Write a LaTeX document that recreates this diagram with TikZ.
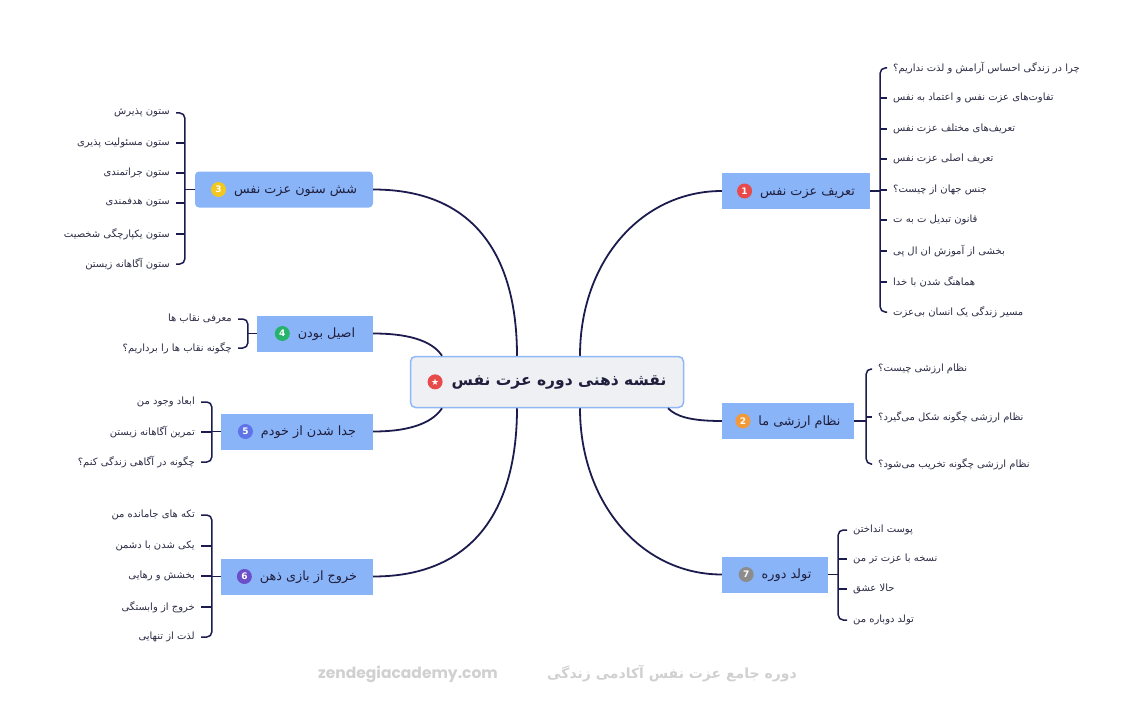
\documentclass[tikz,border=0pt]{standalone}
\usepackage{fontspec}
\setmainfont{DejaVu Sans}
\newfontfamily\fafont[Script=Arabic]{DejaVu Sans}
\newfontfamily\webfont{Poppins}
\TeXXeTstate=1
\usetikzlibrary{positioning}
\definecolor{navy}{HTML}{1C1B4D}
\definecolor{topicblue}{HTML}{8AB4F8}
\definecolor{rootfill}{HTML}{EEF0F4}
\definecolor{rootedge}{HTML}{8FB8F6}
\definecolor{inktext}{HTML}{1F1F3D}
\definecolor{leaftext}{HTML}{2B2B45}
\definecolor{footgray}{HTML}{D0D0D0}
\definecolor{dotred}{HTML}{E84A4A}
\definecolor{dotorange}{HTML}{F29A38}
\definecolor{dotyellow}{HTML}{F2C81E}
\definecolor{dotgreen}{HTML}{27B36B}
\definecolor{dotblue}{HTML}{5F74E8}
\definecolor{dotpurple}{HTML}{6B4FC9}
\definecolor{dotgray}{HTML}{8C8C8C}
\newcommand{\fa}[1]{{\fafont\beginR #1\endR}}
\newcommand{\badge}[2]{\tikz[baseline=-4pt]\node[circle, fill=#1, text=white,
   inner sep=0pt, minimum size=15pt, font=\fontsize{9}{9}\selectfont\bfseries]{#2};}

\begin{document}
\begin{tikzpicture}[x=1pt, y=-1pt,
   root/.style={draw=rootedge, fill=rootfill, line width=1.5pt, rounded corners=5pt,
      minimum width=273pt, minimum height=51pt, text=inktext,
      font=\fontsize{15.5}{18}\selectfont\bfseries},
   topic/.style={fill=topicblue, minimum height=36pt, text=inktext,
      font=\fontsize{12.8}{15}\selectfont},
   leafR/.style={anchor=west, inner xsep=6pt, inner ysep=1pt, text=leaftext,
      font=\fontsize{10}{12}\selectfont},
   leafL/.style={leafR, anchor=east},
   branch/.style={draw=navy, line width=1.8pt},
   twig/.style={draw=navy, line width=1.5pt, rounded corners=5pt},
   foot/.style={text=footgray, font=\fontsize{14}{17}\selectfont\bfseries}
]
\useasboundingbox (0,0) rectangle (1140,706);
\node[root] (C) at (547,382) {\badge{dotred}{★}\hspace{9pt}\fa{نقشه ذهنی دوره عزت نفس}};

\node[topic, minimum width=148pt] (T1) at (796,191) {\badge{dotred}{1}\hspace{8pt}\fa{تعریف عزت نفس}};
\node[topic, minimum width=132pt] (T2) at (788,421) {\badge{dotorange}{2}\hspace{8pt}\fa{نظام ارزشی ما}};
\node[topic, minimum width=178pt, rounded corners=4pt] (T3) at (284,189.5) {\badge{dotyellow}{3}\hspace{8pt}\fa{شش ستون عزت نفس}};
\node[topic, minimum width=116pt] (T4) at (315,333.5) {\badge{dotgreen}{4}\hspace{8pt}\fa{اصیل بودن}};
\node[topic, minimum width=152pt] (T5) at (297,431.5) {\badge{dotblue}{5}\hspace{8pt}\fa{جدا شدن از خودم}};
\node[topic, minimum width=152pt] (T6) at (297,576.5) {\badge{dotpurple}{6}\hspace{8pt}\fa{خروج از بازی ذهن}};
\node[topic, minimum width=106pt] (T7) at (775,574.5) {\badge{dotgray}{7}\hspace{8pt}\fa{تولد دوره}};

\draw[branch] (T3.east) .. controls +(105,0) and +(0,-95) .. ([xshift=-30pt]C.north);
\draw[branch] (T1.west) .. controls +(-80,0) and +(0,-95) .. ([xshift=33pt]C.north);
\draw[branch] (T4.east) .. controls +(42,0) and +(-8,-12) .. ([xshift=-105pt]C.north);
\draw[branch] (T5.east) .. controls +(42,0) and +(-8,12) .. ([xshift=-105pt]C.south);
\draw[branch] (T2.west) .. controls +(-32,0) and +(8,8) .. ([xshift=121pt]C.south);
\draw[branch] (T6.east) .. controls +(105,0) and +(0,95) .. ([xshift=-30pt]C.south);
\draw[branch] (T7.west) .. controls +(-80,0) and +(0,95) .. ([xshift=33pt]C.south);

\node[leafR] (a1) at (887,68) {\fa{چرا در زندگی احساس آرامش و لذت نداریم؟}};
\node[leafR] (a2) at (887,98) {\fa{تفاوت‌های عزت نفس و اعتماد به نفس}};
\node[leafR] (a3) at (887,129) {\fa{تعریف‌های مختلف عزت نفس}};
\node[leafR] (a4) at (887,159) {\fa{تعریف اصلی عزت نفس}};
\node[leafR] (a5) at (887,190) {\fa{جنس جهان از چیست؟}};
\node[leafR] (a6) at (887,220) {\fa{قانون تبدیل ت به ت}};
\node[leafR] (a7) at (887,251) {\fa{بخشی از آموزش ان ال پی}};
\node[leafR] (a8) at (887,282) {\fa{هماهنگ شدن با خدا}};
\node[leafR] (a9) at (887,312) {\fa{مسیر زندگی یک انسان بی‌عزت}};
\coordinate[right=10pt of T1] (k1);
\draw[twig] (T1.east) -- (k1);
\draw[twig] (a1.west) -| (k1) |- (a9.west);
\draw[twig] (k1 |- a2.west) -- (a2.west) (k1 |- a3.west) -- (a3.west)
   (k1 |- a4.west) -- (a4.west) (k1 |- a5.west) -- (a5.west)
   (k1 |- a6.west) -- (a6.west) (k1 |- a7.west) -- (a7.west)
   (k1 |- a8.west) -- (a8.west);

\node[leafR] (b1) at (872,369) {\fa{نظام ارزشی چیست؟}};
\node[leafR] (b2) at (872,417) {\fa{نظام ارزشی چگونه شکل می‌گیرد؟}};
\node[leafR] (b3) at (872,464) {\fa{نظام ارزشی چگونه تخریب می‌شود؟}};
\coordinate[right=12pt of T2] (k2);
\draw[twig] (T2.east) -- (k2);
\draw[twig] (b1.west) -| (k2) |- (b3.west);
\draw[twig] (k2 |- b2.west) -- (b2.west);

\node[leafL] (c1) at (176,113) {\fa{ستون پذیرش}};
\node[leafL] (c2) at (176,143) {\fa{ستون مسئولیت پذیری}};
\node[leafL] (c3) at (176,173) {\fa{ستون جراتمندی}};
\node[leafL] (c4) at (176,203) {\fa{ستون هدفمندی}};
\node[leafL] (c5) at (176,234) {\fa{ستون یکپارچگی شخصیت}};
\node[leafL] (c6) at (176,264) {\fa{ستون آگاهانه زیستن}};
\coordinate[left=10pt of T3] (k3);
\draw[twig] (T3.west) -- (k3);
\draw[twig] (c1.east) -| (k3) |- (c6.east);
\draw[twig] (k3 |- c2.east) -- (c2.east) (k3 |- c3.east) -- (c3.east)
   (k3 |- c4.east) -- (c4.east) (k3 |- c5.east) -- (c5.east);

\node[leafL] (d1) at (238,319) {\fa{معرفی نقاب ها}};
\node[leafL] (d2) at (238,348) {\fa{چگونه نقاب ها را برداریم؟}};
\coordinate[left=9pt of T4] (k4);
\draw[twig] (T4.west) -- (k4);
\draw[twig] (d1.east) -| (k4) |- (d2.east);

\node[leafL] (e1) at (201,402) {\fa{ابعاد وجود من}};
\node[leafL] (e2) at (201,432) {\fa{تمرین آگاهانه زیستن}};
\node[leafL] (e3) at (201,462) {\fa{چگونه در آگاهی زندگی کنم؟}};
\coordinate[left=9pt of T5] (k5);
\draw[twig] (T5.west) -- (k5);
\draw[twig] (e1.east) -| (k5) |- (e3.east);
\draw[twig] (k5 |- e2.east) -- (e2.east);

\node[leafL] (f1) at (201,515) {\fa{تکه های جامانده من}};
\node[leafL] (f2) at (201,546) {\fa{یکی شدن با دشمن}};
\node[leafL] (f3) at (201,576) {\fa{بخشش و رهایی}};
\node[leafL] (f4) at (201,607) {\fa{خروج از وابستگی}};
\node[leafL] (f5) at (201,637) {\fa{لذت از تنهایی}};
\coordinate[left=9pt of T6] (k6);
\draw[twig] (T6.west) -- (k6);
\draw[twig] (f1.east) -| (k6) |- (f5.east);
\draw[twig] (k6 |- f2.east) -- (f2.east) (k6 |- f3.east) -- (f3.east)
   (k6 |- f4.east) -- (f4.east);

\node[leafR] (g1) at (847,530) {\fa{پوست انداختن}};
\node[leafR] (g2) at (847,559) {\fa{نسخه با عزت تر من}};
\node[leafR] (g3) at (847,589) {\fa{حالا عشق}};
\node[leafR] (g4) at (847,620) {\fa{تولد دوباره من}};
\coordinate[right=10pt of T7] (k7);
\draw[twig] (T7.east) -- (k7);
\draw[twig] (g1.west) -| (k7) |- (g4.west);
\draw[twig] (k7 |- g2.west) -- (g2.west) (k7 |- g3.west) -- (g3.west);

\node[foot, font=\fontsize{15.5}{18}\selectfont\bfseries] (web) at (408,674) {\webfont zendegiacademy.com};
\node[foot] (title) at (672,674) {\fa{دوره جامع عزت نفس آکادمی زندگی}};
\end{tikzpicture}
\end{document}
